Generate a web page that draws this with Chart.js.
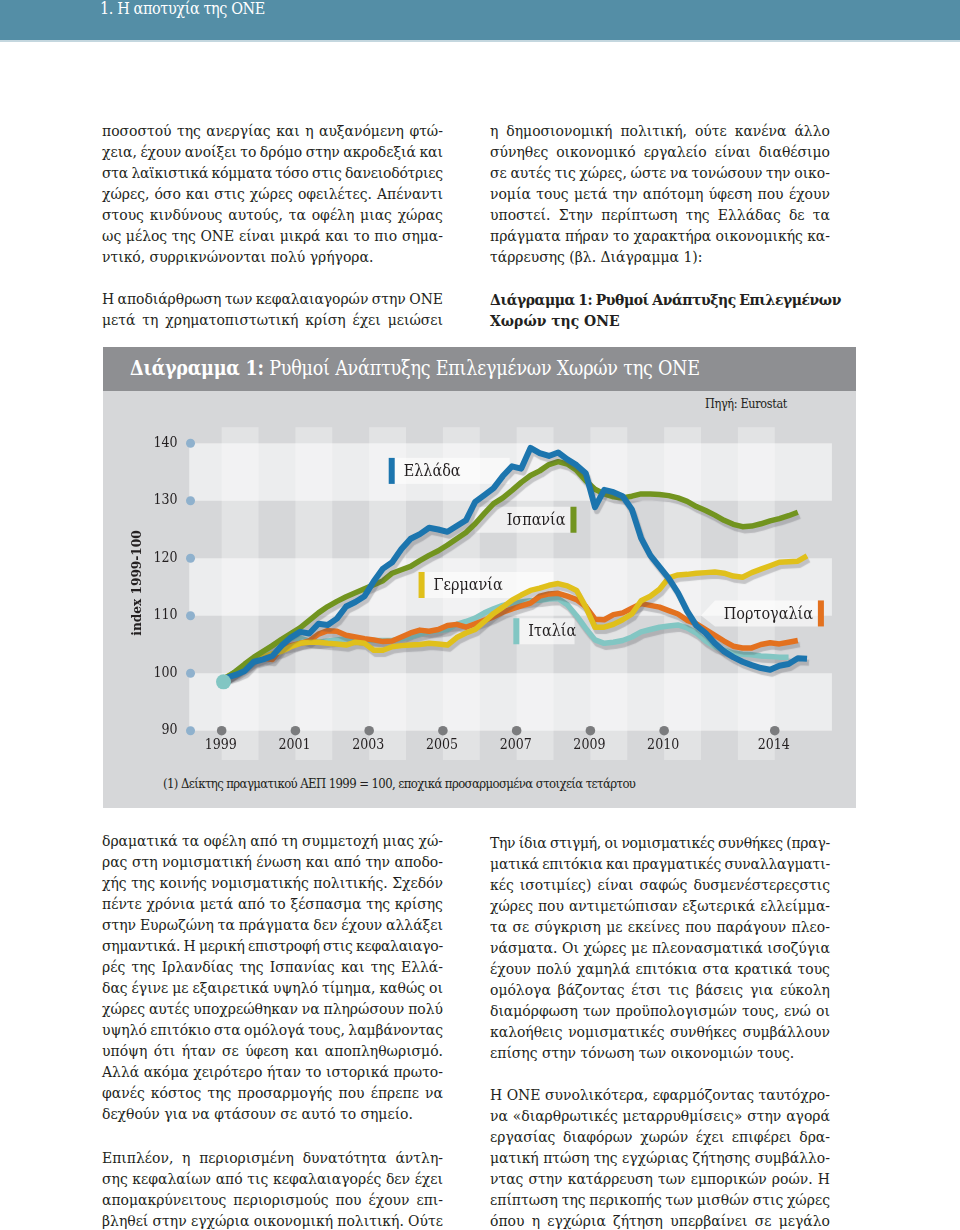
<!DOCTYPE html>
<html lang="el"><head><meta charset="utf-8">
<script src="https://cdn.jsdelivr.net/npm/chart.js@4.4.1/dist/chart.umd.min.js"></script>
<style>
html,body{margin:0;padding:0;background:#fff}
body{position:relative;width:960px;height:1230px;overflow:hidden;color:#231f20;font-family:"DejaVu Serif Condensed","DejaVu Serif",serif}
#topbar{position:absolute;left:0;top:0;width:960px;height:40px;background:#548ea6;border-bottom:2px solid #c4d7df}
#topbar .t{position:absolute;left:100px;top:0;line-height:18px;font-size:16px;color:#fff;white-space:nowrap}
.ln{position:absolute;height:21px;line-height:21px;font-size:15.5px;white-space:nowrap;display:flex;justify-content:space-between}
.ln.last{display:block}
.b{font-weight:bold}
#panel{position:absolute;left:103px;top:347px;width:753px;height:461px;background:#d6d7d9}
#phead{position:absolute;left:0;top:0;width:753px;height:44px;background:#8e8f92;color:#fff}
#phead .in{position:absolute;left:27px;top:0;line-height:44px;font-size:19.5px;white-space:nowrap}
#src{position:absolute;right:69px;top:49px;line-height:16px;font-size:12.5px;white-space:nowrap}
#note{position:absolute;left:60px;top:429px;line-height:16px;font-size:13px;white-space:nowrap}
#c{position:absolute;left:0;top:44px}
</style></head>
<body>
<div id="topbar"><span class="t" id="toptitle">1. Η αποτυχία της ΟΝΕ</span></div>
<div id="panel">
  <div id="phead"><span class="in" id="ptitle"><b>Διάγραμμα 1:</b> Ρυθμοί Ανάπτυξης Επιλεγμένων Χωρών της ΟΝΕ</span></div>
  <span id="src">Πηγή: Eurostat</span>
  <span id="note">(1) Δείκτης πραγματικού ΑΕΠ 1999 = 100, εποχικά προσαρμοσμένα στοιχεία τετάρτου</span>
  <canvas id="c" width="753" height="417"></canvas>
</div>
<script>
// ---------------- DATA ----------------
const quarterStartYear = 1999; // quarterly series, first value = 1999 Q1
const greece = [99.2,99.7,100.4,102.0,102.4,103.0,104.8,106.2,107.2,106.9,
  108.6,108.4,109.5,111.6,112.4,113.4,116.0,118.2,119.3,121.6,
  123.4,124.2,125.3,125.0,124.6,125.6,126.6,129.8,131.0,132.2,
  134.3,136.0,135.6,139.2,138.3,137.8,138.4,137.2,136.2,134.8,
  128.9,131.9,131.5,130.8,128.5,123.5,120.5,118.5,116.5,114.0,
  110.8,108.3,107.0,105.2,103.8,102.8,102.0,101.4,100.9,100.6,
  101.3,101.6,102.6,102.5];
const spain = [99.2,100.3,101.6,102.8,103.8,104.8,105.9,106.9,107.9,109.2,
  110.5,111.6,112.5,113.3,114.0,114.7,115.4,116.1,117.4,118.0,
  118.6,119.6,120.5,121.3,122.3,123.4,124.5,126.0,127.8,129.5,
  130.5,131.8,133.2,134.4,135.2,136.3,136.8,136.4,135.3,133.5,
  132.0,131.2,130.7,130.5,130.8,131.2,131.2,131.1,130.9,130.5,
  129.9,129.0,128.3,127.5,126.6,125.9,125.5,125.6,126.0,126.5,
  126.9,127.4,128.0];
const germany = [99.3,100.2,101.2,102.2,102.8,103.4,103.8,104.6,105.2,105.4,
  105.4,105.2,105.1,104.9,105.4,105.2,104.0,104.0,104.6,104.8,
  104.9,105.0,105.2,105.1,104.9,106.2,107.0,107.6,109.0,110.4,
  111.5,112.7,113.6,114.4,114.8,115.3,115.6,115.2,114.4,111.5,
  108.0,108.0,108.5,109.3,110.3,112.6,113.4,114.6,116.6,117.1,
  117.2,117.4,117.5,117.6,117.4,116.9,116.7,117.5,118.1,118.7,
  119.3,119.4,119.5,120.4];
const italy = [99.2,100.3,101.4,102.6,103.6,104.8,105.7,106.1,106.1,105.6,
  105.4,105.6,105.8,106.0,106.1,105.8,105.7,105.7,105.7,106.0,
  106.3,106.8,107.2,107.4,107.6,108.5,109.0,109.6,110.5,111.2,
  111.8,112.2,112.4,112.6,112.7,112.9,113.0,111.9,110.0,107.8,
  105.8,105.2,105.4,105.7,106.3,107.2,107.6,108.0,108.2,108.4,
  107.9,107.0,105.6,104.6,104.0,103.5,103.3,103.2,103.0,102.9,
  102.8,102.8];
const portugal = [99.3,99.9,100.9,102.1,102.6,102.4,104.4,104.8,105.2,105.6,
  106.8,107.4,107.3,106.6,106.3,106.0,105.8,105.5,105.6,106.3,
  107.0,107.5,107.3,107.6,108.3,108.5,108.0,108.6,109.2,109.8,
  110.6,111.2,111.7,112.2,113.4,113.8,113.9,113.4,112.8,111.6,
  109.4,109.3,110.2,110.5,111.3,112.1,111.8,111.5,110.9,110.3,
  109.2,108.6,107.6,106.6,105.6,104.7,104.4,104.4,105.0,105.3,
  105.1,105.4,105.7];
const startMarker = [{x:1999.05, y:98.5}];
const yTicks = [90,100,110,120,130,140];
const xTickYears = [1999,2001,2003,2005,2007,2009,2011,2014];
const xTickLabels = ['1999','2001','2003','2005','2007','2009','2010','2014'];
const seriesNames = ['Ελλάδα','Ισπανία','Γερμανία','Ιταλία','Πορτογαλία'];

// ---------------- STYLE / LAYOUT ----------------
const colors = {gr:'#1c75ae', es:'#72941f', de:'#e0c01b', it:'#82c6c3', pt:'#e3711f'};
const callouts = [
  {name:seriesNames[0], color:colors.gr, barYear:2003.53, value:135.2, align:'left', boxEnd:2006.81},
  {name:seriesNames[1], color:colors.es, barYear:2008.46, value:126.7, align:'right', boxEnd:2005.86},
  {name:seriesNames[2], color:colors.de, barYear:2004.34, value:115.35, align:'left', boxEnd:2008.0},
  {name:seriesNames[3], color:colors.it, barYear:2006.91, value:107.3, align:'left', boxEnd:2008.57},
  {name:seriesNames[4], color:colors.pt, barYear:2015.17, value:110.4, align:'right', boxEnd:2012.38, arrow:true}
];
const toPts = arr => arr.map((v,i)=>({x: quarterStartYear + (i+0.5)/4, y: v}));
const FONT = '"DejaVu Serif Condensed","DejaVu Serif",serif';

const bgPlugin = {
  id:'bg',
  beforeDatasetsDraw(chart){
    const {ctx, scales:{x,y}} = chart;
    ctx.save();
    ctx.fillStyle='rgba(255,255,255,0.55)';
    const bx0=x.getPixelForValue(1998.12), bx1=x.getPixelForValue(2015.55);
    [[130,140],[110,120],[90,100]].forEach(([a,b])=>{
      const t=y.getPixelForValue(b), bt=y.getPixelForValue(a);
      ctx.fillRect(bx0,t,bx1-bx0,bt-t);
    });
    ctx.fillStyle='rgba(255,255,255,0.3)';
    const ct=y.getPixelForValue(142.8), cb=y.getPixelForValue(84.9);
    for(let yr=1999; yr<=2013; yr+=2){
      const l=x.getPixelForValue(yr), r=x.getPixelForValue(yr+1);
      ctx.fillRect(l,ct,r-l,cb-ct);
    }
    const dx=x.getPixelForValue(1998.155);
    ctx.font='14px '+FONT; ctx.textAlign='right'; ctx.textBaseline='middle';
    yTicks.forEach(v=>{
      const py=y.getPixelForValue(v);
      ctx.fillStyle='#8fb1cd'; ctx.beginPath(); ctx.arc(dx,py,4.5,0,Math.PI*2); ctx.fill();
      ctx.fillStyle='#231f20'; ctx.fillText(String(v), dx-13, py);
    });
    const y90=y.getPixelForValue(90);
    ctx.textAlign='center';
    xTickYears.forEach((yr,i)=>{
      const px=x.getPixelForValue(yr);
      ctx.fillStyle='#7b7c7e'; ctx.beginPath(); ctx.arc(px,y90,4.8,0,Math.PI*2); ctx.fill();
      ctx.fillStyle='#231f20'; ctx.fillText(xTickLabels[i], px-1, y90+15);
    });
    ctx.save();
    ctx.translate(x.getPixelForValue(1998)-47.5, y.getPixelForValue(115.7));
    ctx.rotate(-Math.PI/2);
    ctx.font='bold 13.5px '+FONT; ctx.textAlign='center'; ctx.fillStyle='#231f20';
    ctx.fillText('index 1999-100',0,0);
    ctx.restore();
    ctx.font='16px '+FONT; ctx.textBaseline='middle';
    callouts.forEach(c=>{
      const bx=x.getPixelForValue(c.barYear), cy=y.getPixelForValue(c.value), ex=x.getPixelForValue(c.boxEnd);
      const h=26;
      ctx.fillStyle='rgba(255,255,255,0.6)';
      if(c.align==='left'){
        ctx.fillRect(bx+6,cy-h/2,ex-bx-6,h);
      } else {
        ctx.beginPath();
        if(c.arrow){ ctx.moveTo(ex-14,cy+2); ctx.lineTo(ex,cy-h/2); }
        else ctx.moveTo(ex,cy-h/2);
        ctx.lineTo(bx,cy-h/2); ctx.lineTo(bx,cy+h/2); ctx.lineTo(ex,cy+h/2);
        ctx.closePath(); ctx.fill();
      }
      ctx.fillStyle=c.color; ctx.fillRect(bx,cy-h/2,6,h);
      ctx.fillStyle='#231f20';
      if(c.align==='left'){ ctx.textAlign='left'; ctx.fillText(c.name,bx+15,cy+1); }
      else { ctx.textAlign='right'; ctx.fillText(c.name,bx-5,cy+1); }
    });
    ctx.restore();
  },
  beforeDatasetDraw(chart,args){
    const ctx=chart.ctx; ctx.save();
    if(chart.data.datasets[args.index].shadow){
      ctx.shadowColor='rgba(80,80,85,0.28)'; ctx.shadowOffsetX=2; ctx.shadowOffsetY=4; ctx.shadowBlur=1;
    }
  },
  afterDatasetDraw(chart){ chart.ctx.restore(); }
};

const lineDs = (label,data,color,w)=>({label, data:toPts(data), borderColor:color, backgroundColor:color,
  borderWidth:w, pointRadius:0, tension:0, borderJoinStyle:'round', borderCapStyle:'butt', shadow:true, clip:false});

new Chart(document.getElementById('c'), {
  type:'line',
  data:{datasets:[
    {label:'start', data:startMarker, showLine:false, pointRadius:7.5, pointBackgroundColor:colors.it, pointBorderWidth:0, clip:false},
    lineDs(seriesNames[0], greece, colors.gr, 6),
    lineDs(seriesNames[1], spain, colors.es, 5.5),
    lineDs(seriesNames[2], germany, colors.de, 5.5),
    lineDs(seriesNames[4], portugal, colors.pt, 5.5),
    lineDs(seriesNames[3], italy, colors.it, 5.5)
  ]},
  options:{
    responsive:false, animation:false, devicePixelRatio:1,
    layout:{padding:{left:81.8, right:6.5, top:52.3, bottom:77.3}},
    plugins:{legend:{display:false}, tooltip:{enabled:false}},
    scales:{
      x:{type:'linear', min:1998, max:2016, display:false},
      y:{type:'linear', min:90, max:140, display:false}
    }
  },
  plugins:[bgPlugin]
});

// ---------------- BODY TEXT ----------------
const paras = [
  {left:102, width:341, y:131, lines:[
    'ποσοστού της ανεργίας και η αυξανόμενη φτώ-',
    'χεια, έχουν ανοίξει το δρόμο στην ακροδεξιά και',
    'στα λαϊκιστικά κόμματα τόσο στις δανειοδότριες',
    'χώρες, όσο και στις χώρες οφειλέτες. Απέναντι',
    'στους κινδύνους αυτούς, τα οφέλη μιας χώρας',
    'ως μέλος της ΟΝΕ είναι μικρά και το πιο σημα-',
    'ντικό, συρρικνώνονται πολύ γρήγορα.']},
  {left:102, width:341, y:299, open:true, lines:[
    'Η αποδιάρθρωση των κεφαλαιαγορών στην ΟΝΕ',
    'μετά τη χρηματοπιστωτική κρίση έχει μειώσει']},
  {left:490, width:340, y:131, lines:[
    'η δημοσιονομική πολιτική, ούτε κανένα άλλο',
    'σύνηθες οικονομικό εργαλείο είναι διαθέσιμο',
    'σε αυτές τις χώρες, ώστε να τονώσουν την οικο-',
    'νομία τους μετά την απότομη ύφεση που έχουν',
    'υποστεί. Στην περίπτωση της Ελλάδας δε τα',
    'πράγματα πήραν το χαρακτήρα οικονομικής κα-',
    'τάρρευσης (βλ. Διάγραμμα 1):']},
  {left:490, width:351, y:299, bold:true, lines:[
    'Διάγραμμα 1: Ρυθμοί Ανάπτυξης Επιλεγμένων',
    'Χωρών της ΟΝΕ']},
  {left:102, width:341, y:841, lines:[
    'δραματικά τα οφέλη από τη συμμετοχή μιας χώ-',
    'ρας στη νομισματική ένωση και από την αποδο-',
    'χής της κοινής νομισματικής πολιτικής. Σχεδόν',
    'πέντε χρόνια μετά από το ξέσπασμα της κρίσης',
    'στην Ευρωζώνη τα πράγματα δεν έχουν αλλάξει',
    'σημαντικά. Η μερική επιστροφή στις κεφαλαιαγο-',
    'ρές της Ιρλανδίας της Ισπανίας και της Ελλά-',
    'δας έγινε με εξαιρετικά υψηλό τίμημα, καθώς οι',
    'χώρες αυτές υποχρεώθηκαν να πληρώσουν πολύ',
    'υψηλό επιτόκιο στα ομόλογά τους, λαμβάνοντας',
    'υπόψη ότι ήταν σε ύφεση και αποπληθωρισμό.',
    'Αλλά ακόμα χειρότερο ήταν το ιστορικά πρωτο-',
    'φανές κόστος της προσαρμογής που έπρεπε να',
    'δεχθούν για να φτάσουν σε αυτό το σημείο.']},
  {left:102, width:341, y:1158, open:true, lines:[
    'Επιπλέον, η περιορισμένη δυνατότητα άντλη-',
    'σης κεφαλαίων από τις κεφαλαιαγορές δεν έχει',
    'απομακρύνειτους περιορισμούς που έχουν επι-',
    'βληθεί στην εγχώρια οικονομική πολιτική. Ούτε']},
  {left:490, width:340, y:843, lines:[
    'Την ίδια στιγμή, οι νομισματικές συνθήκες (πραγ-',
    'ματικά επιτόκια και πραγματικές συναλλαγματι-',
    'κές ισοτιμίες) είναι σαφώς δυσμενέστερεςστις',
    'χώρες που αντιμετώπισαν εξωτερικά ελλείμμα-',
    'τα σε σύγκριση με εκείνες που παράγουν πλεο-',
    'νάσματα. Οι χώρες με πλεονασματικά ισοζύγια',
    'έχουν πολύ χαμηλά επιτόκια στα κρατικά τους',
    'ομόλογα βάζοντας έτσι τις βάσεις για εύκολη',
    'διαμόρφωση των προϋπολογισμών τους, ενώ οι',
    'καλοήθεις νομισματικές συνθήκες συμβάλλουν',
    'επίσης στην τόνωση των οικονομιών τους.']},
  {left:490, width:340, y:1095, open:true, lines:[
    'Η ΟΝΕ συνολικότερα, εφαρμόζοντας ταυτόχρο-',
    'να «διαρθρωτικές μεταρρυθμίσεις» στην αγορά',
    'εργασίας διαφόρων χωρών έχει επιφέρει δρα-',
    'ματική πτώση της εγχώριας ζήτησης συμβάλλο-',
    'ντας στην κατάρρευση των εμπορικών ροών. Η',
    'επίπτωση της περικοπής των μισθών στις χώρες',
    'όπου η εγχώρια ζήτηση υπερβαίνει σε μεγάλο']}
];
paras.forEach(p=>{
  p.lines.forEach((txt,i)=>{
    const isLast = (i===p.lines.length-1) && !p.open;
    const d=document.createElement('div');
    d.className='ln'+(isLast?' last':'')+(p.bold?' b':'');
    d.style.left=p.left+'px'; d.style.top=(p.y-10.5+i*21)+'px';
    if(isLast){ d.textContent=txt; document.body.appendChild(d); return; }
    d.style.width=p.width+'px';
    const words=txt.split(/\s+/);
    words.forEach(w=>{const s=document.createElement('span'); s.textContent=w; d.appendChild(s);});
    document.body.appendChild(d);
    const spans=[...d.children];
    const sum=spans.reduce((a,s)=>a+s.getBoundingClientRect().width,0);
    const need=sum+(spans.length-1)*3.5;
    if(need>p.width){
      const chars=txt.replace(/\s+/g,'').length;
      const ls=(p.width-need)/chars;
      spans.forEach(s=>s.style.letterSpacing=ls.toFixed(2)+'px');
    }
  });
});
function fitWidth(el,target){
  const w=el.getBoundingClientRect().width, n=el.textContent.length;
  el.style.letterSpacing=((target-w)/n).toFixed(2)+'px';
}
fitWidth(document.getElementById('toptitle'),165);
fitWidth(document.getElementById('ptitle'),570);
fitWidth(document.getElementById('src'),82);
fitWidth(document.getElementById('note'),472);
</script>
</body></html>
